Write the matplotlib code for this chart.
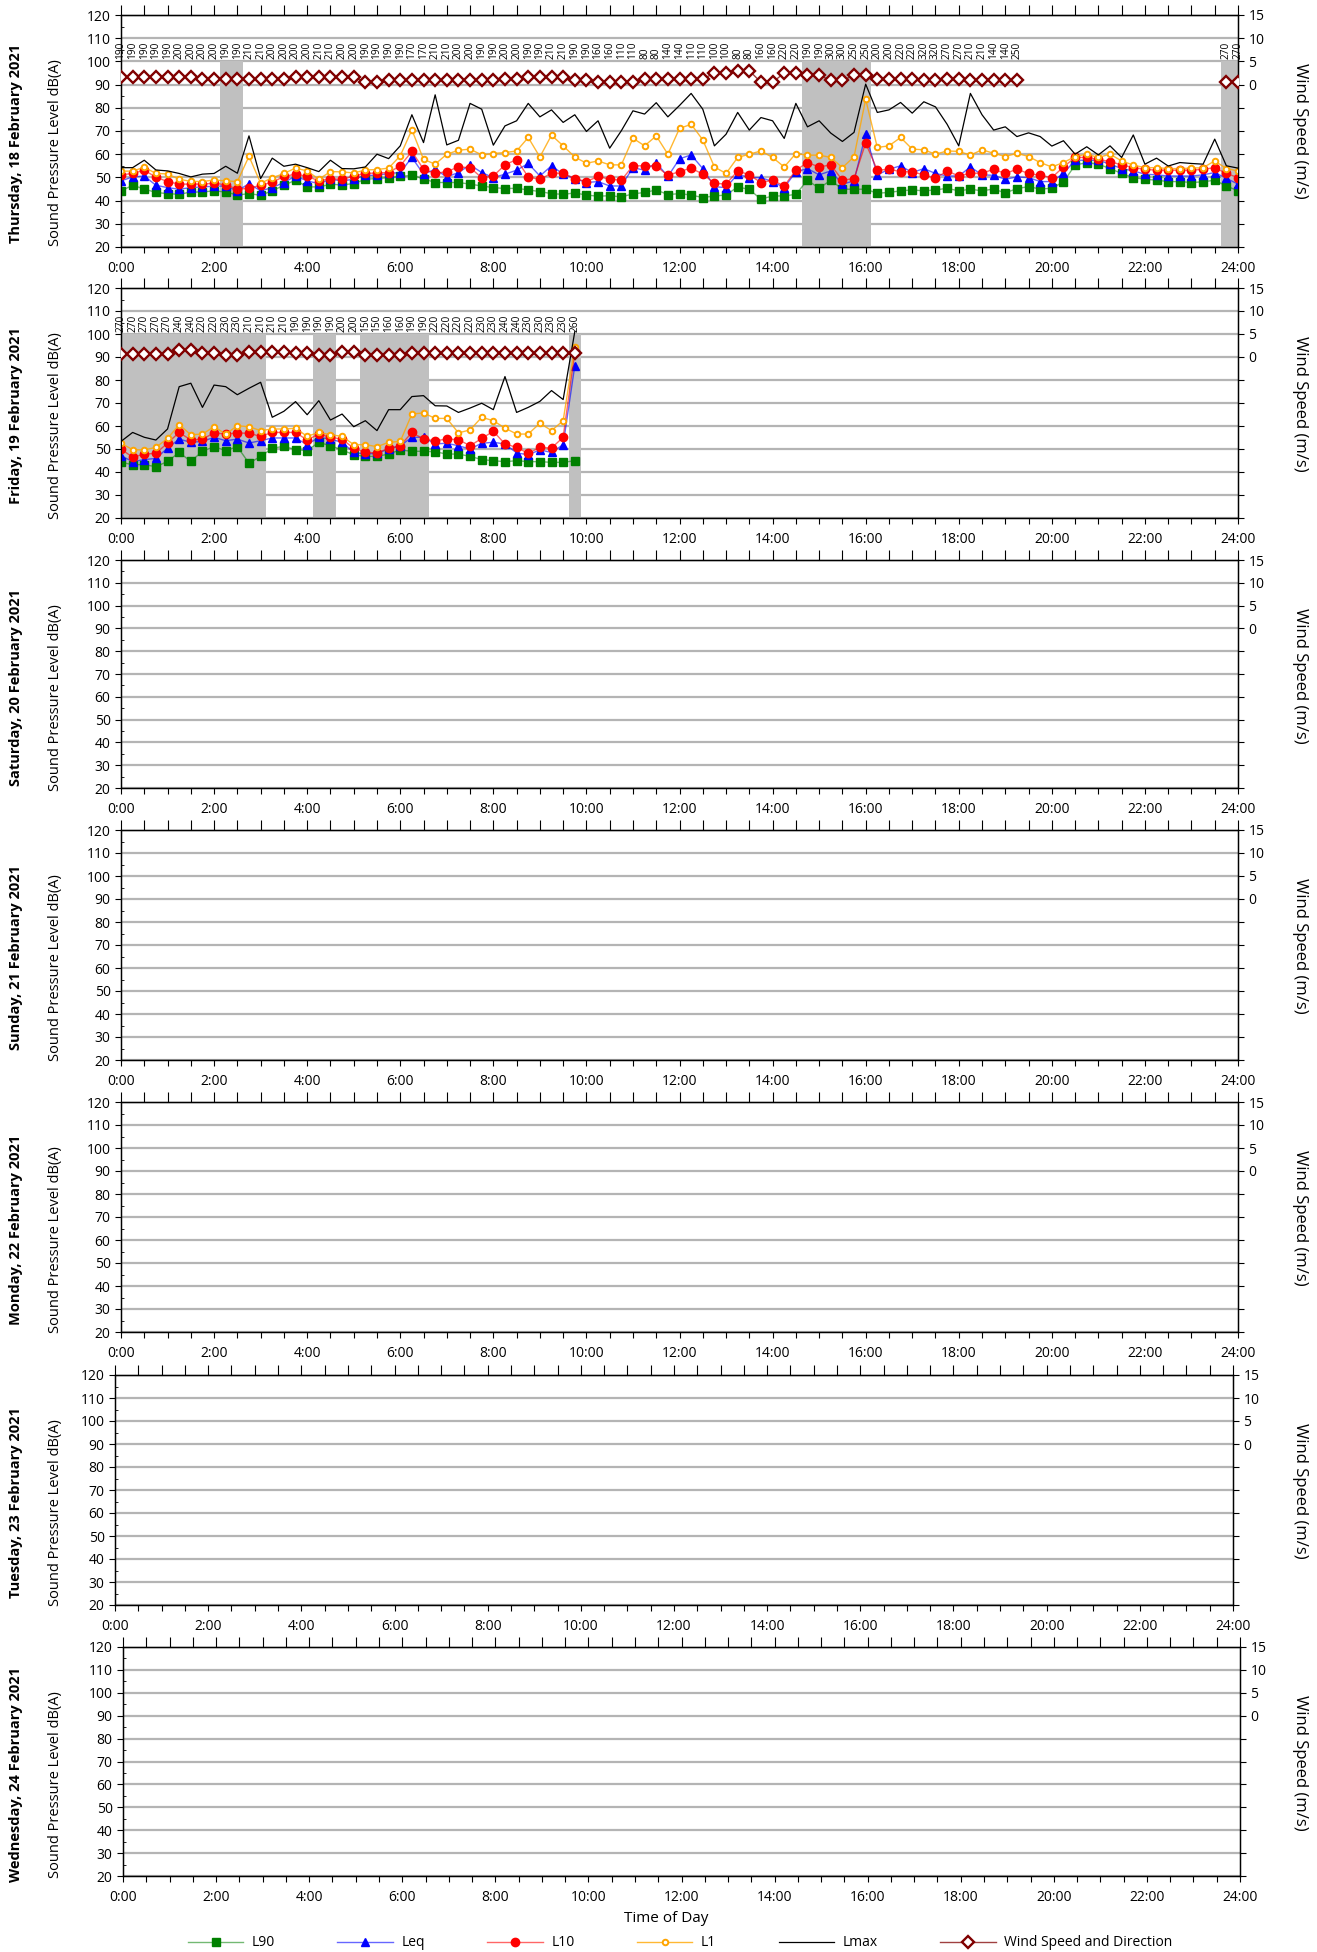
import matplotlib
matplotlib.use('Agg')
import matplotlib.pyplot as plt
import numpy as np

plt.rcParams['font.family'] = ['Open Sans', 'DejaVu Sans']

days = ['Thursday, 18 February 2021', 'Friday, 19 February 2021',
        'Saturday, 20 February 2021', 'Sunday, 21 February 2021',
        'Monday, 22 February 2021', 'Tuesday, 23 February 2021',
        'Wednesday, 24 February 2021']
hour_labels = ['0:00', '2:00', '4:00', '6:00', '8:00', '10:00', '12:00',
               '14:00', '16:00', '18:00', '20:00', '22:00', '24:00']

# Thursday 18 Feb - 15 minute intervals, 0:00 to 24:00
thu_l90 = [44.2, 46.6, 45.0, 43.5, 43.0, 42.7, 43.7, 43.7, 44.2, 43.7,
           42.4, 43.0, 42.3, 44.2, 46.6, 48.8, 45.9, 45.9, 47.0, 46.8,
           47.3, 49.2, 49.5, 49.9, 50.4, 50.9, 49.4, 47.8, 47.8, 47.8,
           47.1, 46.3, 45.6, 45.2, 45.3, 44.6, 43.9, 43.0, 42.7, 43.3,
           42.4, 41.9, 42.1, 41.6, 42.9, 43.5, 44.6, 42.6, 43.0, 42.4,
           41.3, 42.0, 42.4, 45.9, 44.8, 40.6, 42.0, 42.0, 42.7, 48.8,
           45.3, 48.8, 44.9, 44.9, 44.9, 43.2, 43.5, 44.2, 44.6, 44.2,
           44.6, 45.3, 44.2, 44.9, 44.2, 45.0, 43.3, 45.2, 46.0, 45.0,
           45.3, 48.1, 55.3, 56.4, 55.7, 53.8, 51.7, 49.9, 49.2, 48.8,
           48.2, 48.2, 47.8, 48.1, 48.8, 46.3, 44.2]
thu_leq = [48.5, 50.2, 50.6, 46.6, 45.6, 44.9, 45.6, 45.9, 46.2, 46.3,
           44.2, 47.3, 44.2, 45.6, 47.8, 50.6, 48.5, 47.3, 49.2, 48.5,
           49.2, 50.9, 50.9, 51.7, 52.1, 58.6, 51.4, 53.5, 50.2, 52.1,
           55.4, 52.1, 49.9, 51.4, 53.1, 56.0, 50.6, 55.0, 51.4, 49.5,
           47.8, 48.2, 46.3, 46.3, 54.2, 53.1, 56.3, 50.4, 58.0, 59.7,
           53.8, 46.0, 45.6, 51.4, 49.9, 49.9, 48.2, 45.6, 52.4, 53.8,
           51.1, 52.8, 47.1, 48.5, 68.6, 51.1, 53.5, 55.0, 52.1, 53.8,
           51.7, 50.6, 50.6, 54.5, 51.1, 50.9, 49.2, 50.2, 49.9, 48.2,
           48.2, 51.7, 57.4, 57.4, 57.4, 55.7, 53.8, 52.8, 51.4, 51.1,
           50.6, 50.6, 50.6, 51.1, 52.1, 49.6, 47.1]
thu_l10 = [51.1, 51.7, 53.1, 50.1, 48.2, 47.1, 47.1, 47.1, 47.5, 46.8,
           44.9, 45.3, 46.6, 47.9, 50.4, 51.4, 50.5, 48.5, 49.5, 49.1,
           50.6, 51.7, 51.9, 52.1, 55.0, 61.2, 53.5, 51.7, 52.5, 54.5,
           54.2, 49.9, 50.6, 55.4, 57.7, 50.2, 49.1, 51.8, 51.8, 49.5,
           48.2, 50.4, 49.2, 48.8, 55.0, 55.0, 54.8, 50.9, 52.5, 54.0,
           51.4, 47.5, 47.1, 52.8, 51.1, 47.8, 48.8, 46.3, 53.1, 56.4,
           54.5, 55.4, 48.8, 49.5, 64.8, 53.1, 53.5, 52.5, 52.4, 51.1,
           49.6, 52.8, 50.6, 51.8, 51.8, 53.5, 51.7, 53.5, 51.7, 50.9,
           49.9, 54.5, 58.6, 58.6, 57.8, 56.8, 55.4, 54.2, 53.5, 53.1,
           53.1, 53.1, 53.1, 53.5, 54.2, 51.7, 49.9]
thu_l1 = [52.7, 52.7, 54.4, 51.7, 51.5, 49.2, 48.3, 48.2, 48.9, 48.5,
          48.2, 59.1, 47.5, 49.8, 51.7, 54.0, 52.8, 49.2, 52.5, 52.4,
          51.9, 53.2, 53.4, 54.0, 59.3, 70.5, 57.8, 55.7, 60.0, 61.7,
          62.2, 59.7, 60.3, 60.7, 61.4, 67.2, 58.8, 68.2, 63.6, 58.8,
          56.1, 57.1, 55.4, 55.4, 66.9, 63.6, 67.9, 60.0, 71.1, 72.9,
          66.2, 54.5, 51.7, 58.6, 60.0, 61.4, 58.6, 54.5, 60.3, 59.6,
          59.6, 58.6, 54.2, 58.9, 83.7, 62.9, 63.6, 67.2, 62.2, 61.9,
          60.0, 61.4, 61.2, 59.6, 61.9, 60.4, 59.0, 60.4, 59.0, 56.4,
          54.5, 56.4, 59.0, 60.0, 58.6, 60.0, 57.1, 55.3, 54.2, 54.2,
          53.8, 53.8, 54.0, 54.2, 57.1, 53.8, 52.8]
thu_lmax = [54.2, 54.2, 57.4, 53.2, 52.8, 51.7, 50.2, 51.4, 51.7, 54.8,
            51.8, 67.9, 49.5, 58.3, 54.8, 55.7, 54.2, 52.5, 57.4, 53.8,
            53.7, 54.5, 60.0, 58.1, 63.6, 77.0, 65.0, 85.6, 64.0, 66.0,
            81.9, 79.4, 63.9, 72.2, 74.4, 81.9, 76.1, 79.1, 73.7, 77.0,
            69.8, 74.4, 62.6, 70.1, 78.7, 77.3, 82.2, 76.1, 81.0, 86.2,
            79.4, 63.6, 68.6, 78.0, 70.4, 75.8, 74.4, 66.8, 81.9, 71.8,
            74.4, 69.1, 65.5, 69.4, 90.2, 78.0, 79.1, 82.3, 77.7, 82.6,
            80.4, 72.9, 63.6, 86.2, 77.0, 70.4, 71.8, 67.6, 69.2, 67.6,
            63.5, 65.8, 60.0, 63.2, 59.7, 63.6, 58.6, 68.3, 55.7, 58.3,
            54.9, 56.4, 56.0, 55.7, 66.5, 55.0, 54.0]
thu_wind = [1.6, 1.6, 1.6, 1.6, 1.6, 1.6, 1.6, 1.2, 1.2, 1.2,
            1.2, 1.2, 1.2, 1.2, 1.2, 1.6, 1.6, 1.6, 1.6, 1.6,
            1.6, 0.5, 0.5, 0.9, 0.9, 0.9, 0.9, 0.9, 0.9, 0.9,
            0.9, 0.9, 0.9, 1.2, 1.2, 1.6, 1.6, 1.6, 1.6, 0.9,
            0.9, 0.5, 0.5, 0.5, 0.5, 1.2, 1.2, 1.2, 1.2, 1.2,
            1.2, 2.5, 2.5, 3.0, 3.0, 0.5, 0.5, 2.5, 2.5, 2.0,
            2.0, 0.9, 0.9, 2.0, 2.0, 1.2, 1.2, 1.2, 1.2, 0.9,
            0.9, 1.2, 1.2, 0.9, 0.9, 0.9, 0.9, 0.9, None, None,
            None, None, None, None, None, None, None, None, None, None,
            None, None, None, None, None, 0.5, 0.5]
thu_dir = [190, 190, 190, 190, 190, 200, 200, 200, 200, 190,
           190, 210, 210, 200, 200, 200, 200, 210, 210, 200,
           200, 190, 190, 190, 190, 170, 170, 210, 210, 200,
           200, 190, 190, 200, 200, 190, 190, 210, 210, 190,
           190, 160, 160, 110, 110, 80, 80, 140, 140, 110,
           110, 100, 100, 80, 80, 160, 160, 220, 220, 190,
           190, 300, 300, 250, 250, 200, 200, 220, 220, 320,
           320, 270, 270, 210, 210, 140, 140, 250, None, None,
           None, None, None, None, None, None, None, None, None, None,
           None, None, None, None, None, 270, 270]
thu_shaded = [9, 10, 59, 60, 61, 62, 63, 64, 95, 96]

# Friday 19 Feb - 15 minute intervals, 0:00 to 9:45
fri_l90 = [44.2, 43.2, 43.2, 42.3, 44.6, 48.5, 44.6, 49.0, 51.0, 49.3,
           51.0, 43.8, 46.8, 50.3, 51.2, 49.7, 49.3, 52.9, 51.4, 49.6,
           47.5, 46.8, 46.8, 47.8, 49.6, 49.0, 49.0, 48.8, 47.8, 47.8,
           46.8, 45.4, 44.9, 44.5, 44.9, 44.5, 44.5, 44.2, 44.2, 44.9]
fri_leq = [47.1, 44.5, 45.4, 45.9, 50.4, 54.3, 52.9, 53.3, 55.1, 53.6,
           54.3, 52.6, 53.6, 54.8, 54.8, 54.8, 51.9, 55.1, 54.3, 52.9,
           48.5, 47.8, 48.1, 50.0, 51.4, 55.1, 55.1, 52.2, 52.5, 51.4,
           50.0, 52.5, 52.9, 52.2, 48.3, 47.5, 49.6, 48.5, 51.9, 86.2]
fri_l10 = [50.0, 46.4, 47.8, 48.1, 52.6, 57.2, 53.9, 54.3, 57.0, 56.5,
           57.0, 56.8, 55.5, 57.2, 57.2, 57.2, 53.9, 56.5, 55.1, 54.3,
           50.3, 48.5, 48.3, 50.3, 51.4, 57.2, 54.3, 53.6, 54.3, 54.1,
           51.4, 54.6, 57.7, 52.2, 50.7, 48.1, 50.7, 50.4, 55.1, 92.0]
fri_l1 = [52.5, 49.7, 49.6, 50.7, 54.6, 60.6, 56.2, 56.5, 59.7, 56.5,
          60.1, 59.7, 58.0, 58.7, 58.7, 59.0, 55.5, 57.2, 56.2, 55.5,
          51.9, 51.9, 51.0, 52.9, 53.3, 65.2, 65.7, 63.3, 63.3, 57.0,
          58.3, 63.8, 62.3, 59.1, 56.5, 56.5, 61.2, 58.0, 62.3, 94.5]
fri_lmax = [53.3, 57.2, 55.1, 53.9, 58.7, 77.1, 78.6, 68.1, 77.8, 77.1,
            73.6, 76.4, 79.0, 63.8, 66.4, 70.6, 64.9, 71.0, 62.6, 65.2,
            59.7, 62.3, 58.0, 67.1, 67.1, 72.8, 73.2, 68.8, 68.7, 65.9,
            67.8, 69.9, 67.1, 81.5, 65.9, 68.1, 70.7, 75.4, 71.5, 101.0]
fri_wind = [0.6, 0.6, 0.6, 0.6, 0.6, 1.6, 1.6, 0.8, 0.8, 0.5,
            0.5, 1.1, 1.1, 1.1, 1.1, 0.8, 0.8, 0.5, 0.5, 1.1,
            1.1, 0.5, 0.5, 0.5, 0.5, 0.8, 0.8, 0.8, 0.8, 0.8,
            0.8, 0.8, 0.8, 0.8, 0.8, 0.8, 0.8, 0.8, 0.8, 0.8]
fri_dir = [270, 270, 270, 270, 270, 240, 240, 220, 220, 230,
           230, 210, 210, 210, 210, 190, 190, 190, 190, 200,
           200, 150, 150, 160, 160, 190, 190, 220, 220, 220,
           220, 230, 230, 240, 240, 230, 230, 230, 230, 260]
fri_shaded = [0, 1, 2, 3, 4, 5, 6, 7, 8, 9, 10, 11, 12, 17, 18,
              21, 22, 23, 24, 25, 26, 39]

W, H = 1317, 1952
# axes frames in pixels: left, top, right, bottom
frames = [(121, 15, 1238, 247), (121, 288, 1238, 518), (121, 560, 1238, 788),
          (121, 830, 1238, 1060), (121, 1102, 1238, 1332),
          (115, 1375, 1233, 1605), (123, 1647, 1240, 1876)]

fig = plt.figure(figsize=(W / 100, H / 100), dpi=100)


def to_fig(l, t, r, b):
    return [l / W, 1 - b / H, (r - l) / W, (b - t) / H]


def hours(vals):
    return np.arange(len(vals)) * 0.25


handles = None
for k, day in enumerate(days):
    l, t, r, b = frames[k]
    ax = fig.add_axes(to_fig(l, t, r, b))
    ax.set_xlim(0, 24)
    ax.set_ylim(20, 120)
    ax.set_yticks(np.arange(20, 121, 10))
    ax.set_yticks(np.arange(25, 120, 10), minor=True)
    ax.tick_params(axis='y', which='major', direction='out', length=4, labelsize=10)
    ax.tick_params(axis='y', which='minor', direction='in', length=2.5)
    ax.set_xticks(np.arange(0, 24.01, 0.5))
    ax.set_xticklabels([hour_labels[int(h) // 2] if h % 2 == 0 else ''
                        for h in np.arange(0, 24.01, 0.5)])
    ax.tick_params(axis='x', direction='out', length=4, labelsize=10, pad=6)
    ax.yaxis.grid(True, color='#b4b4b4', lw=1.6)
    ax.set_axisbelow(True)
    for s in ax.spines.values():
        s.set_linewidth(1.0)
    top = ax.secondary_xaxis('top')
    top.set_xticks(np.arange(0, 24.01, 0.5))
    top.set_xticklabels([])
    top.tick_params(direction='out', length=7)

    ax2 = ax.twinx()
    ax2.set_ylim(-35, 15)
    ax2.set_yticks(np.arange(-35, 16, 5))
    ax2.set_yticklabels([str(v) if v >= 0 else '' for v in np.arange(-35, 16, 5)])
    ax2.tick_params(axis='y', direction='out', length=4, labelsize=10)

    fig.text(16 / W, 1 - (t + 128) / H, day, rotation=90, ha='center', va='center',
             fontsize=10.5, fontweight='bold')
    fig.text(56 / W, 1 - (t + 138) / H, 'Sound Pressure Level dB(A)', rotation=90,
             ha='center', va='center', fontsize=10.5)
    fig.text(1300 / W, 1 - (t + 116) / H, 'Wind Speed (m/s)', rotation=-90,
             ha='center', va='center', fontsize=12)

    if k == 0:
        data = (thu_l90, thu_leq, thu_l10, thu_l1, thu_lmax, thu_wind, thu_dir, thu_shaded)
    elif k == 1:
        data = (fri_l90, fri_leq, fri_l10, fri_l1, fri_lmax, fri_wind, fri_dir, fri_shaded)
    else:
        data = None

    if data is not None:
        l90, leq, l10, l1, lmax, wind, wdir, shaded = data
        x = hours(l90)
        ax.bar(x[shaded], 80, bottom=20, width=0.25, color='#c0c0c0', lw=0, zorder=1.5)
        h1, = ax.plot(x, l90, color=(0, 0.5, 0, 0.55), lw=1, marker='s', ms=5.5,
                      mfc='#008000', mec='#008000', zorder=3, label='L90')
        h2, = ax.plot(x, leq, color=(0, 0, 1, 0.6), lw=1, marker='^', ms=6,
                      mfc='#0000ff', mec='#0000ff', zorder=3.1, label='Leq')
        h3, = ax.plot(x, l10, color=(1, 0, 0, 0.6), lw=1, marker='o', ms=6,
                      mfc='#ff0000', mec='#ff0000', zorder=3.2, label='L10')
        h4, = ax.plot(x, l1, color=(1, 0.65, 0, 0.8), lw=1, marker='o', ms=4,
                      mfc='white', mec='#ffa500', mew=1.4, zorder=3.3, label='L1')
        h5, = ax.plot(x, lmax, color='black', lw=0.9, zorder=3.4, label='Lmax')
        w = np.array(wind, dtype=float)
        h6, = ax2.plot(hours(wind), w, color=(0.5, 0, 0, 0.75), lw=1, marker='D', ms=6,
                       mfc='white', mec='#800000', mew=1.7, zorder=4,
                       label='Wind Speed and Direction')
        for xi, d in zip(hours(wdir), wdir):
            if d is not None:
                ax.text(xi, 100.9, str(d), rotation=90, ha='center', va='bottom',
                        fontsize=7.3, clip_on=False, zorder=5)
        if handles is None:
            handles = [h1, h2, h3, h4, h5, h6]

fig.text(666 / W, 1 - 1919 / H, 'Time of Day', ha='center', va='center', fontsize=11)
fig.legend(handles, [h.get_label() for h in handles], loc='center',
           bbox_to_anchor=(680 / W, 1 - 1943 / H), ncol=6, frameon=False, fontsize=10,
           handlelength=4, columnspacing=4.5, handletextpad=0.6)

fig.savefig('out.png', dpi=100)
